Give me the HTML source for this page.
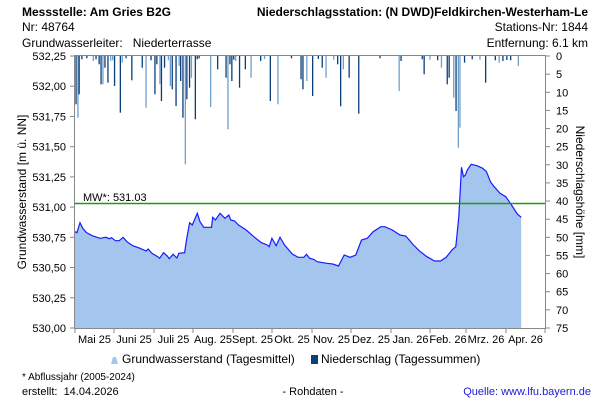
<!DOCTYPE html>
<html><head><meta charset="utf-8"><style>
html,body{margin:0;padding:0;background:#fff}
svg{display:block;font-family:"Liberation Sans",Arial,sans-serif}
</style></head><body>
<svg id="s" width="600" height="400" viewBox="0 0 600 400" xmlns="http://www.w3.org/2000/svg">
<text x="22" y="16" font-size="12" font-weight="bold" fill="#000">Messstelle: Am Gries B2G</text>
<text x="588" y="16" font-size="12" font-weight="bold" fill="#000" text-anchor="end">Niederschlagsstation: (N DWD)Feldkirchen-Westerham-Le</text>
<text x="22" y="31" font-size="12" fill="#000">Nr: 48764</text>
<text x="588" y="31" font-size="12" fill="#000" text-anchor="end">Stations-Nr: 1844</text>
<text x="22" y="47" font-size="12" fill="#000">Grundwasserleiter:&#160;&#160;&#160;Niederterrasse</text>
<text x="588" y="47" font-size="12" fill="#000" text-anchor="end">Entfernung: 6.1 km</text>
<g id="area"></g>
<g id="bars"></g>
<line x1="75" y1="203.5" x2="545" y2="203.5" stroke="#1a9a1a" stroke-width="1.5"/>
<text x="83" y="201" font-size="11" fill="#000">MW*: 531.03</text>
<g stroke="#888" stroke-width="1" fill="none">
<line x1="74.5" y1="55" x2="74.5" y2="329"/>
<line x1="545.5" y1="55" x2="545.5" y2="329"/>
<line x1="74" y1="328.5" x2="546" y2="328.5"/>
<line x1="74" y1="55.5" x2="546" y2="55.5"/>
</g>
<g id="ticks" stroke="#888" stroke-width="1"></g>
<g id="labels" font-size="11" fill="#000"></g>
<text transform="translate(26,192) rotate(-90)" font-size="12" text-anchor="middle" fill="#000">Grundwasserstand [m ü. NN]</text>
<text transform="translate(576,192) rotate(90)" font-size="12" text-anchor="middle" fill="#000">Niederschlagshöhe [mm]</text>
<path d="M111 364 L113 357 L116 357 L118 364 Z" fill="#a4c6ee"/>
<text x="122" y="363" font-size="12" fill="#000">Grundwasserstand (Tagesmittel)</text>
<rect x="311" y="355" width="7" height="9" fill="#0a3f7a"/>
<text x="321" y="363" font-size="12" fill="#000">Niederschlag (Tagessummen)</text>
<text x="22" y="380" font-size="10" fill="#000">* Abflussjahr (2005-2024)</text>
<text x="22" y="395" font-size="11" fill="#000">erstellt:&#160;&#160;14.04.2026</text>
<text x="313" y="395" font-size="11" fill="#000" text-anchor="middle">- Rohdaten -</text>
<text x="591" y="395" font-size="11" fill="#1b1bd8" text-anchor="end">Quelle: www.lfu.bayern.de</text>
</svg>
<script>
var NS="http://www.w3.org/2000/svg";
function el(t,a,p){var e=document.createElementNS(NS,t);for(var k in a)e.setAttribute(k,a[k]);document.getElementById(p).appendChild(e);return e;}
var z=[[195,245],[200,248],[208,218],[215,235],[225,248],[240,257],[260,265],[275,262],[285,266],[290,263],[300,272],[310,272],[320,262],[330,275],[345,287],[360,293],[380,303],[385,297],[395,310],[410,320],[415,325],[425,308],[435,318],[440,326],[450,313],[460,324],[465,310],[480,308],[485,270],[493,218],[500,225],[513,190],[520,215],[530,232],[550,232],[553,202],[560,210],[572,190],[585,205],[595,195],[600,210],[610,213],[620,225],[640,240],[660,260],[680,278],[695,285],[700,290],[707,265],[718,287],[728,262],[740,285],[760,312],[775,322],[790,322],[797,313],[805,325],[815,328],[825,335],[850,340],[865,342],[880,348],[895,315],[910,322],[925,315],[940,270],[955,265],[970,245],[990,230],[1000,230],[1020,240],[1040,255],[1055,258],[1060,265],[1075,285],[1090,302],[1110,320],[1130,333],[1145,333],[1160,322],[1175,300],[1185,290],[1193,200],[1200,52],[1205,80],[1210,75],[1215,60],[1225,43],[1240,47],[1255,55],[1265,65],[1275,95],[1285,110],[1300,130],[1315,140],[1330,165],[1345,192],[1355,202]];
var pts=z.map(function(p){return [(p[0]/2.6).toFixed(1),(150+p[1]/3).toFixed(1)];});
var d="M"+pts.map(function(p){return p.join(" ");}).join(" L");
el("path",{d:d+" L"+pts[pts.length-1][0]+" 328 L75 328 Z",fill:"#a4c6ee"},"area");
el("path",{d:d,fill:"none",stroke:"#1a1aff","stroke-width":"1.2"},"area");
var b=[[200,310],[205,350],[208,280],[215,175],[245,180],[260,190],[265,250],[270,250],[275,200],[283,245],[290,180],[300,255],[315,335],[320,185],[345,238],[372,200],[382,320],[405,280],[410,190],[418,250],[422,300],[430,200],[445,255],[450,265],[460,315],[468,195],[472,240],[478,350],[484,490],[488,295],[495,260],[500,230],[510,355],[515,175],[550,318],[568,205],[590,230],[595,385],[600,190],[605,240],[615,180],[625,260],[640,205],[655,230],[680,180],[705,300],[725,310],[785,235],[790,265],[800,240],[815,285],[840,200],[850,230],[880,190],[888,316],[895,205],[910,230],[935,338],[1040,270],[1045,180],[1105,220],[1150,200],[1165,250],[1170,230],[1182,290],[1188,330],[1194,440],[1198,380],[1210,185],[1265,245],[1300,185],[1310,180],[1330,178],[1350,195],[228,172],[252,175],[295,178],[330,172],[395,178],[440,178],[520,172],[610,176],[690,174],[760,172],[830,174],[870,176],[990,172],[1100,175],[1120,176],[1140,178],[1230,175],[1250,176],[1290,178],[1320,177]];
b.forEach(function(p,i){var x=p[0]/2.6-1.5;var h=(p[1]-165)/3;var light=(p[0]==484||p[0]==1194||i%3==1);
el("rect",{x:x.toFixed(1),y:56,width:1.3,height:h.toFixed(1),fill:light?"#6fa0cc":"#0a3f7a"},"bars");});
var L=["532,25","532,00","531,75","531,50","531,25","531,00","530,75","530,50","530,25","530,00"];
for(var i=0;i<10;i++){var y=56+i*272/9;el("line",{x1:70,y1:y,x2:75,y2:y},"ticks");var t=el("text",{x:66,y:y+4,"text-anchor":"end"},"labels");t.textContent=L[i];}
for(var i=0;i<=15;i++){var y=56+i*272/15;el("line",{x1:545,y1:y,x2:550,y2:y},"ticks");var t=el("text",{x:556,y:y+4},"labels");t.textContent=i*5;}
var tx=[75,114,154,193,233,272,312,351,391,430,466,506,545];
for(var i=0;i<tx.length;i++)el("line",{x1:tx[i],y1:328,x2:tx[i],y2:333},"ticks");
var M=["Mai 25","Juni 25","Juli 25","Aug. 25","Sept. 25","Okt. 25","Nov. 25","Dez. 25","Jan. 26","Feb. 26","Mrz. 26","Apr. 26"];
for(var i=0;i<12;i++){var t=el("text",{x:((tx[i]+tx[i+1])/2).toFixed(1),y:343,"text-anchor":"middle"},"labels");t.textContent=M[i];}
</script>
</body></html>
